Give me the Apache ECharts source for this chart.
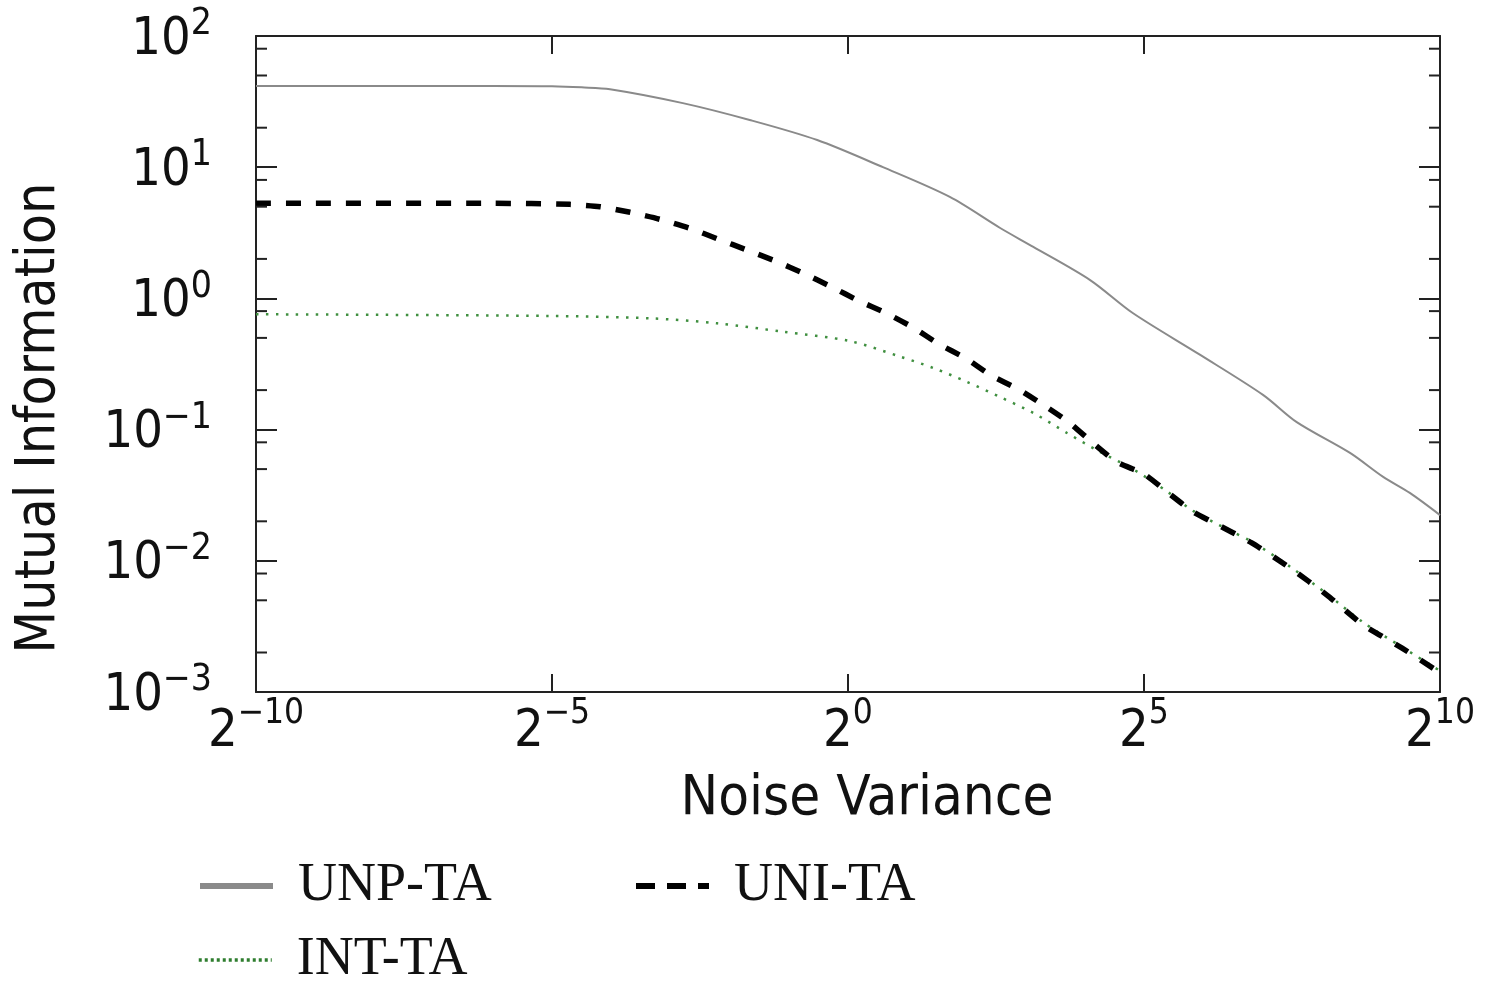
<!DOCTYPE html>
<html><head><meta charset="utf-8">
<script src="https://cdn.jsdelivr.net/npm/echarts@6/dist/echarts.min.js"></script>
<style>html,body{margin:0;padding:0;background:#fff}#c{width:1485px;height:982px}</style>
</head><body><div id="c"></div>
<script>
// ---- data (x = log2 of noise variance, y = mutual information) ----
const xTickExps = [-10, -5, 0, 5, 10];
const yTickExps = [-3, -2, -1, 0, 1, 2];
const yMinorMultipliers = [2, 5, 8];

const unpExp = [-10, -6, -5, -4.5, -4.02, -2.79, -1.66, -0.52, 0.59, 1.72, 2.57, 3.13, 4.09, 4.81, 5.95, 7.01, 7.58, 8.48, 9.04, 9.49, 10];
const unpVal = [41.6, 41.6, 41.4, 40.6, 39.3, 30.8, 22.9, 16.1, 10.0, 5.93, 3.44, 2.47, 1.38, 0.774, 0.371, 0.184, 0.114, 0.0664, 0.0436, 0.0329, 0.0223];

const uniExp = [-10, -6, -4.70, -4.19, -3.68, -3.18, -2.67, -2.20, -1.71, -1.23, -0.76, -0.27, 0.17, 0.64, 1.10, 1.52, 1.98, 2.43, 2.87, 3.33, 3.75, 4.12, 4.54, 5.00, 5.41, 5.83, 6.15, 6.82, 7.47, 8.09, 8.70, 9.36, 10];
const uniVal = [5.31, 5.31, 5.21, 5.00, 4.53, 4.01, 3.42, 2.84, 2.34, 1.93, 1.56, 1.22, 0.964, 0.774, 0.600, 0.453, 0.351, 0.257, 0.204, 0.151, 0.112, 0.0803, 0.0566, 0.0459, 0.0329, 0.0236, 0.0198, 0.0137, 0.00881, 0.00548, 0.00325, 0.00216, 0.00140];

const intExp = [-10, -5.03, -3.34, -2.21, -1.10, 0.03, 0.88, 1.44, 2.01, 2.57, 3.13, 3.70, 4.26, 4.81, 5.41, 5.83, 6.45, 6.82, 7.47, 8.09, 8.70, 9.36, 10];
const intVal = [0.757, 0.735, 0.705, 0.646, 0.557, 0.473, 0.360, 0.295, 0.231, 0.177, 0.134, 0.0942, 0.0675, 0.0501, 0.0333, 0.0240, 0.0170, 0.0140, 0.0090, 0.0056, 0.0034, 0.0022, 0.00145];

const seriesNames = ['UNP-TA', 'UNI-TA', 'INT-TA'];
const xName = 'Noise Variance';
const yName = 'Mutual Information';

// ---- build ----
const SANS = "'DejaVu Sans Condensed','Liberation Sans Narrow','DejaVu Sans',sans-serif";
const SERIF = "'Liberation Serif','DejaVu Serif',serif";
const AX = '#222';
const sup = n => String(n).replace('-', '\u2212');
const pair = (xs, vs) => xs.map((x, i) => [x, vs[i]]);
const minorVals = [];
yTickExps.slice(0, -1).forEach(e => yMinorMultipliers.forEach(m => minorVals.push(m * Math.pow(10, e))));

const chart = echarts.init(document.getElementById('c'), null, {renderer: 'canvas'});
const axisLineCommon = {onZero: false, lineStyle: {color: AX, width: 2}};
const xAxisBase = {
  type: 'value', min: -10, max: 10, interval: 5,
  axisLine: axisLineCommon,
  axisTick: {inside: true, length: 18, lineStyle: {color: AX, width: 2}},
  splitLine: {show: false}
};
const yAxisBase = {
  type: 'log', logBase: 10, min: 0.001, max: 100, splitNumber: 5,
  axisLine: axisLineCommon,
  axisTick: {inside: true, length: 21, lineStyle: {color: AX, width: 2}},
  splitLine: {show: false}, minorTick: {show: false}
};
const legendText = {fontFamily: SERIF, fontSize: 54, color: '#111', lineHeight: 60, padding: [0, 0, 0, 20]};

const option = {
  animation: false,
  backgroundColor: '#fff',
  grid: {left: 256, right: 45, top: 36, bottom: 290},
  xAxis: [
    Object.assign({}, xAxisBase, {
      position: 'bottom',
      axisLabel: {
        margin: 4,
        formatter: v => '{b|2}{s|' + sup(v) + '}',
        rich: {
          b: {fontFamily: SANS, fontSize: 52, color: '#111', verticalAlign: 'bottom', lineHeight: 62},
          s: {fontFamily: SANS, fontSize: 35, color: '#111', verticalAlign: 'top', lineHeight: 62}
        }
      }
    }),
    Object.assign({}, xAxisBase, {position: 'top', axisLabel: {show: false}})
  ],
  yAxis: [
    Object.assign({}, yAxisBase, {
      position: 'left',
      axisLabel: {
        margin: 44,
        formatter: v => '{b|10}{s|' + sup(Math.round(Math.log10(v))) + '}',
        rich: {
          b: {fontFamily: SANS, fontSize: 52, color: '#111', verticalAlign: 'bottom', lineHeight: 60},
          s: {fontFamily: SANS, fontSize: 37, color: '#111', verticalAlign: 'top', lineHeight: 60}
        }
      }
    }),
    Object.assign({}, yAxisBase, {position: 'right', axisLabel: {show: false}})
  ],
  legend: [
    {data: [seriesNames[0]], left: 197, top: 856, padding: 0, itemWidth: 73, itemHeight: 14,
     textStyle: legendText, itemStyle: {opacity: 0}, lineStyle: {width: 6}, selectedMode: false},
    {data: [seriesNames[1]], left: 633, top: 856, padding: 0, itemWidth: 73, itemHeight: 14,
     textStyle: legendText, itemStyle: {opacity: 0}, lineStyle: {width: 6, type: [19, 12]}, selectedMode: false},
    {data: [seriesNames[2]], left: 197, top: 930, padding: 0, itemWidth: 73, itemHeight: 14,
     textStyle: legendText, itemStyle: {opacity: 0}, lineStyle: {width: 3.5, type: [3, 3], color: '#2e7d2e'}, selectedMode: false}
  ],
  graphic: [
    {type: 'text', x: 40, y: 418, rotation: Math.PI / 2,
     style: {text: yName, fontFamily: SANS, fontSize: 55, fill: '#111', align: 'center', verticalAlign: 'middle'}},
    {type: 'text', x: 867, y: 799,
     style: {text: xName, fontFamily: SANS, fontSize: 56, fill: '#111', align: 'center', verticalAlign: 'middle'}}
  ],
  series: [
    {name: seriesNames[0], type: 'line', data: pair(unpExp, unpVal), showSymbol: false, symbol: 'none',
     smooth: 0.3, z: 3, lineStyle: {color: '#8a8a8a', width: 2}, itemStyle: {color: '#8a8a8a'}},
    {name: seriesNames[2], type: 'line', data: pair(intExp, intVal), showSymbol: false, symbol: 'none',
     smooth: 0.3, z: 2, lineStyle: {color: '#3f8f3f', width: 2.5, type: [2.5, 7.5]}, itemStyle: {color: '#2f7f2f'}},
    {name: seriesNames[1], type: 'line', data: pair(uniExp, uniVal), showSymbol: false, symbol: 'none',
     smooth: 0.2, z: 4, lineStyle: {color: '#000', width: 5.5, type: [15, 15]}, itemStyle: {color: '#000'}},
    {name: 'minorTicks', type: 'custom', silent: true, clip: false, z: 5,
     data: minorVals.map(v => [-10, v]),
     renderItem: (params, api) => {
       const v = api.value(1);
       const l = api.coord([-10, v]);
       const r = api.coord([10, v]);
       return {type: 'group', children: [
         {type: 'line', shape: {x1: l[0], y1: l[1], x2: l[0] + 11, y2: l[1]}, style: {stroke: AX, lineWidth: 2}},
         {type: 'line', shape: {x1: r[0] - 11, y1: r[1], x2: r[0], y2: r[1]}, style: {stroke: AX, lineWidth: 2}}
       ]};
     }}
  ]
};
chart.setOption(option);
</script>
</body></html>
